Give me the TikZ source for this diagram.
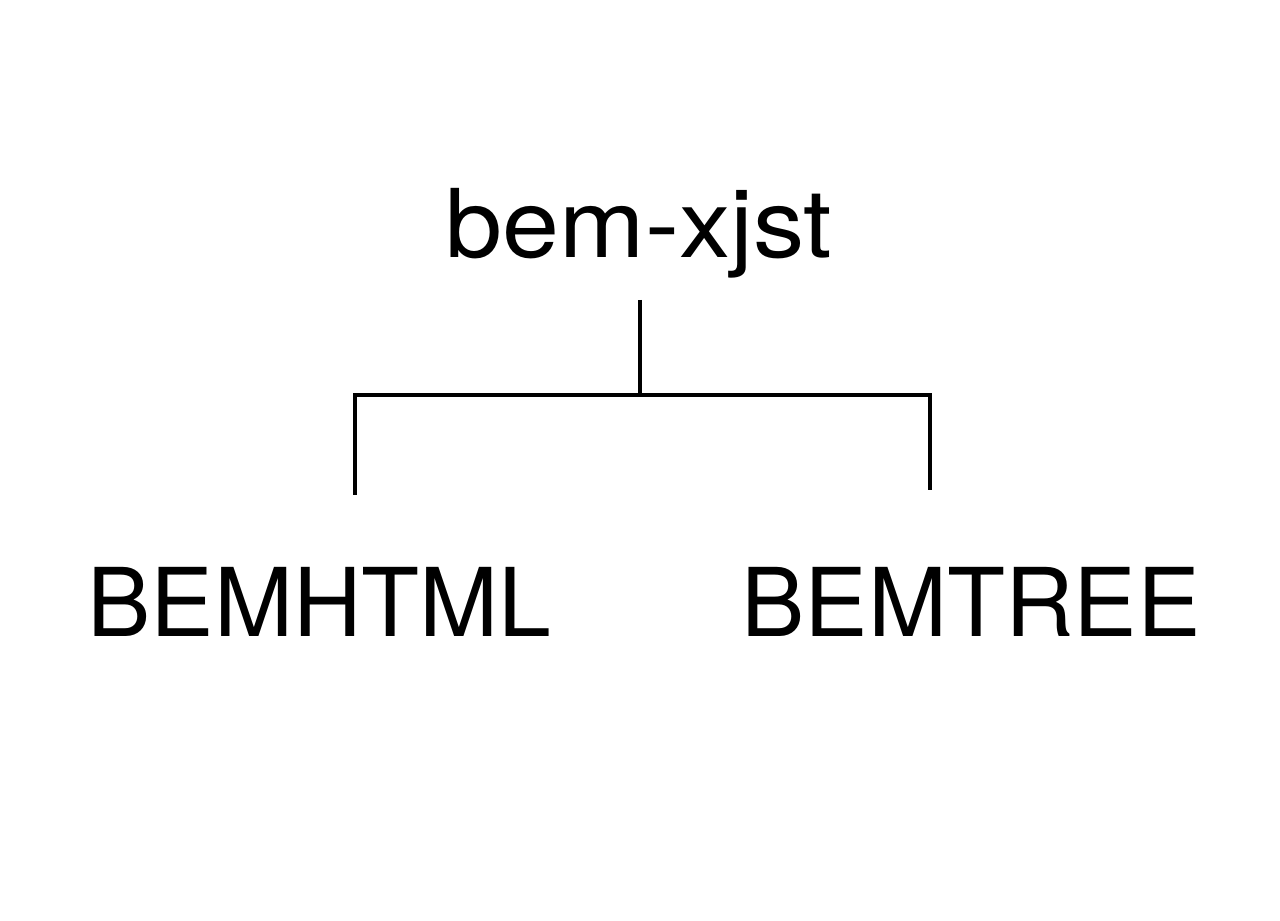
\documentclass[tikz,border=0pt]{standalone}
\usepackage{fontspec}
\setmainfont{TeX Gyre Heros}
\usetikzlibrary{positioning}

\begin{document}
\begin{tikzpicture}[label/.style={anchor=base, inner sep=0pt, font=\fontsize{54}{60}\selectfont},
                    branch/.style={line width=2.3pt}]
\useasboundingbox (0,0) rectangle (25.6,18.42);

\node[label, xscale=1.08] (xjst) at (12.78,13.26) {bem-xjst};
\node[label] (bemhtml) at (6.39,5.68) {BEMHTML};
\node[label] (bemtree) at (19.42,5.68) {BEMTREE};

\coordinate (stem) at (12.8,12.42);
\coordinate (fork) at (12.8,10.52);
\coordinate (htmlend) at (7.1,8.52);
\coordinate (treeend) at (18.6,8.62);

\draw[branch] (stem) -- (fork);
\draw[branch] (htmlend) |- (fork) -| (treeend);
\end{tikzpicture}
\end{document}
